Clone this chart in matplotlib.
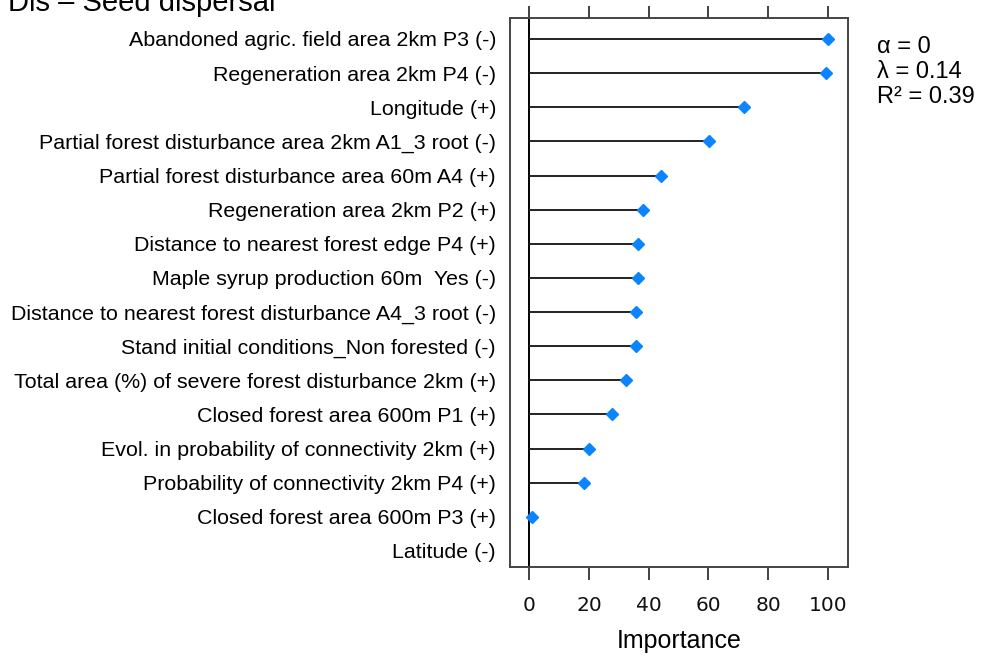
import numpy as np
import matplotlib.pyplot as plt

# variable importance (scaled 0-100), listed top to bottom
variables = [
    "Abandoned agric. field area 2km P3 (-)",
    "Regeneration area 2km P4 (-)",
    "Longitude (+)",
    "Partial forest disturbance area 2km A1_3 root (-)",
    "Partial forest disturbance area 60m A4 (+)",
    "Regeneration area 2km P2 (+)",
    "Distance to nearest forest edge P4 (+)",
    "Maple syrup production 60m  Yes (-)",
    "Distance to nearest forest disturbance A4_3 root (-)",
    "Stand initial conditions_Non forested (-)",
    "Total area (%) of severe forest disturbance 2km (+)",
    "Closed forest area 600m P1 (+)",
    "Evol. in probability of connectivity 2km (+)",
    "Probability of connectivity 2km P4 (+)",
    "Closed forest area 600m P3 (+)",
    "Latitude (-)",
]
importance = [100.0, 99.3, 72.1, 60.3, 44.1, 38.0, 36.3, 36.3, 35.8, 35.8,
              32.4, 27.6, 19.9, 18.3, 0.8, np.nan]

title = "Dis \u2013 Seed dispersal"
model_stats = ["\u03b1 = 0", "\u03bb = 0.14", "R\u00b2 = 0.39"]

label_font = "Liberation Sans"
axis_font = "DejaVu Sans"

fig = plt.figure(figsize=(9.82, 6.64), dpi=100)
ax = fig.add_axes([0.5193, 0.1461, 0.3442, 0.8268])

ypos = np.arange(len(variables))
vals = np.array(importance)
ok = ~np.isnan(vals)

ax.axvline(0, color="black", lw=1.4, zorder=1)
ax.hlines(ypos[ok], 0, vals[ok], color="#222222", lw=1.4, zorder=2)
ax.plot(vals[ok], ypos[ok], ls="none", marker="D", ms=6.5,
        color="#0A84FF", mec="#0A84FF", zorder=3)

ax.set_xlim(-6.5, 106.8)
ax.set_ylim(15.47, -0.615)

ax.set_yticks(ypos)
ax.set_yticklabels(variables, fontsize=15.4, family=label_font)
ax.tick_params(axis="y", length=0, pad=10)

ax.set_xticks([0, 20, 40, 60, 80, 100])
ax.tick_params(axis="x", which="both", top=True, bottom=True,
               direction="out", length=9, width=1.3, color="#333333",
               labelsize=14.5, pad=12, labelcolor="#111111")
for lab in ax.get_xticklabels():
    lab.set_family(axis_font)
ax.set_xlabel("Importance", fontsize=18, family=label_font, labelpad=10)

for sp in ax.spines.values():
    sp.set_color("#444444")
    sp.set_linewidth(1.4)

fig.text(8 / 982, 1 - 11 / 664, title, fontsize=21, family=label_font,
         va="baseline", ha="left")

for i, s in enumerate(model_stats):
    fig.text(877 / 982, 1 - (47 + 25 * i) / 664, s, fontsize=17,
             family=label_font, va="center", ha="left")

fig.savefig("out.png", dpi=100)
